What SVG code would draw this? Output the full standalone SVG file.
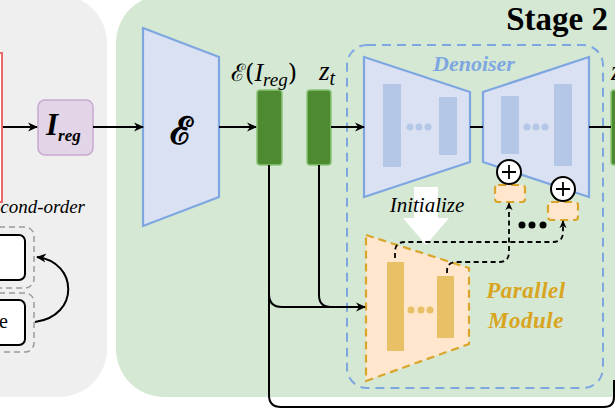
<svg xmlns="http://www.w3.org/2000/svg" width="615" height="410" viewBox="0 0 615 410">
<style>
text{font-family:"Liberation Serif","Times New Roman","DejaVu Serif",serif}
.conn{fill:none;stroke:#000;stroke-width:2}
.dconn{fill:none;stroke:#000;stroke-width:1.8;stroke-dasharray:5 3.5}
.bluebox{fill:#dae1f3;stroke:#7ea6e0;stroke-width:2.2}
.bluebar{fill:#b4c7e7}
.green{fill:#4d8a30;stroke:#8cc47a;stroke-width:1.5}
.orange{fill:#ffe6cc;stroke:#d9a52b;stroke-width:2.2;stroke-dasharray:8 5}
.goldbar{fill:#e8c065}
</style>
<defs>
<marker id="ah" viewBox="0 0 10 10" refX="9" refY="5" markerWidth="10" markerHeight="10" markerUnits="userSpaceOnUse" orient="auto"><path d="M0,0.5 L10,5 L0,9.5 L3,5 z" fill="#000"/></marker>
<marker id="ahs" viewBox="0 0 10 10" refX="9" refY="5" markerWidth="8" markerHeight="8" markerUnits="userSpaceOnUse" orient="auto"><path d="M0,0.5 L10,5 L0,9.5 L3,5 z" fill="#000"/></marker>
</defs>

<!-- panels -->
<g id="stage1-panel"><rect x="-60" y="-5" width="167" height="402" rx="48" fill="#efefef"/></g>
<g id="stage2-panel"><rect x="116" y="-5" width="570" height="402" rx="48" fill="#d5e8d4"/>
<text x="608" y="30" font-family="Liberation Serif, serif" font-size="33" font-weight="bold" text-anchor="end">Stage 2</text></g>

<!-- left panel content -->
<g id="input-image"><rect x="-100" y="53" width="102" height="149" fill="#ffffff" stroke="#ea6b66" stroke-width="2"/></g>
<g id="second-order-label"><text x="85" y="213" font-family="Liberation Serif, serif" font-size="19" font-style="italic" text-anchor="end">cond-order</text></g>
<g id="group-a"><rect x="-60" y="227" width="94" height="61" rx="9" fill="none" stroke="#9a9a9a" stroke-width="1.5" stroke-dasharray="6 4"/>
<rect x="-60" y="235" width="85" height="45" rx="6" fill="#fff" stroke="#000" stroke-width="2"/></g>
<g id="group-b"><rect x="-60" y="293" width="94" height="59" rx="9" fill="none" stroke="#9a9a9a" stroke-width="1.5" stroke-dasharray="6 4"/>
<rect x="-60" y="300" width="85" height="45" rx="6" fill="#fff" stroke="#000" stroke-width="2"/>
<text x="8" y="328" font-family="Liberation Serif, serif" font-size="20" text-anchor="end">e</text></g>

<g id="ireg"><rect x="38" y="100" width="55" height="55" rx="7" fill="#e1d5e7" stroke="#c8a8cf" stroke-width="1.5"/>
<text x="46" y="135" font-family="Liberation Serif, serif" font-weight="bold" font-style="italic"><tspan font-size="31">I</tspan><tspan font-size="17" dy="6">reg</tspan></text></g>

<g id="encoder"><polygon points="143,28 219,57 219,197 143,226" class="bluebox"/>
<text x="181" y="144" font-family="DejaVu Serif, DejaVu Sans, serif" font-size="38" font-weight="bold" text-anchor="middle">ℰ</text></g>

<g id="latent-ireg"><rect x="257" y="90" width="25" height="75" rx="3" class="green"/>
<text x="231" y="81" font-size="26"><tspan font-family="DejaVu Serif, serif" font-size="24">ℰ(</tspan><tspan font-family="Liberation Serif, serif" font-style="italic">I</tspan><tspan font-family="Liberation Serif, serif" font-style="italic" font-size="19" dy="5">reg</tspan><tspan font-family="DejaVu Serif, serif" font-size="24" dy="-5">)</tspan></text></g>
<g id="latent-zt"><rect x="307" y="90" width="24" height="75" rx="3" class="green"/>
<text x="319" y="80" font-family="Liberation Serif, serif" font-style="italic" font-size="27">z<tspan font-size="20" dy="5">t</tspan></text></g>

<g id="denoiser"><rect x="347" y="45" width="256" height="343" rx="20" fill="none" stroke="#7ea6e0" stroke-width="2" stroke-dasharray="9 6"/>
<text x="474" y="71" font-family="Liberation Serif, serif" font-size="22" font-weight="bold" font-style="italic" fill="#7ea6e0" text-anchor="middle">Denoiser</text>
<polygon points="364,57 470,92 470,162 364,197" class="bluebox"/>
<rect x="383" y="84" width="18" height="83" class="bluebar"/>
<rect x="439" y="97" width="18" height="58" class="bluebar"/>
<circle cx="410" cy="127" r="3.5" class="bluebar"/><circle cx="419" cy="127" r="3.5" class="bluebar"/><circle cx="428" cy="127" r="3.5" class="bluebar"/>
<polygon points="483,92 589,57 589,197 483,162" class="bluebox"/>
<rect x="501" y="96" width="18" height="58" class="bluebar"/>
<rect x="554" y="84" width="18" height="82" class="bluebar"/>
<circle cx="527" cy="127" r="3.5" class="bluebar"/><circle cx="536" cy="127" r="3.5" class="bluebar"/><circle cx="545" cy="127" r="3.5" class="bluebar"/></g>

<g id="latent-out"><rect x="611" y="90" width="24" height="75" rx="3" class="green"/>
<text x="611" y="80" font-family="Liberation Serif, serif" font-style="italic" font-size="27">z</text></g>

<g id="initialize"><polygon points="414,187 438,187 438,218 449,218 426,245 403,218 414,218" fill="#fff"/>
<text x="427" y="212" font-family="Liberation Serif, serif" font-size="21" font-style="italic" text-anchor="middle">Initialize</text></g>

<g id="parallel-module"><polygon points="366,235 469,268 469,344 366,381" class="orange"/>
<rect x="387" y="262" width="17" height="89" class="goldbar"/>
<rect x="437" y="276" width="17" height="62" class="goldbar"/>
<circle cx="411" cy="310" r="3.5" class="goldbar"/><circle cx="421" cy="310" r="3.5" class="goldbar"/><circle cx="430" cy="310" r="3.5" class="goldbar"/>
<text x="526" y="298" font-family="Liberation Serif, serif" font-size="23" font-weight="bold" font-style="italic" fill="#d9a521" text-anchor="middle" letter-spacing="0.5">Parallel</text>
<text x="526" y="328" font-family="Liberation Serif, serif" font-size="23" font-weight="bold" font-style="italic" fill="#d9a521" text-anchor="middle" letter-spacing="0.5">Module</text></g>

<g id="add1"><rect x="495" y="185" width="30" height="17" rx="3" class="orange" stroke-dasharray="4 2.5"/>
<circle cx="509" cy="172" r="12" fill="#fff" stroke="#000" stroke-width="2"/>
<path d="M502,172 H516 M509,165 V179" stroke="#000" stroke-width="1.8"/></g>
<g id="add2"><rect x="548" y="202" width="30" height="18" rx="3" class="orange" stroke-dasharray="4 2.5"/>
<circle cx="563" cy="189" r="12" fill="#fff" stroke="#000" stroke-width="2"/>
<path d="M556,189 H570 M563,182 V196" stroke="#000" stroke-width="1.8"/></g>

<g id="connectors">
<line x1="3" y1="127" x2="37" y2="127" class="conn" marker-end="url(#ah)"/>
<line x1="93" y1="127" x2="143" y2="127" class="conn" marker-end="url(#ah)"/>
<line x1="219" y1="127" x2="256" y2="127" class="conn" marker-end="url(#ah)"/>
<line x1="331" y1="127" x2="364" y2="127" class="conn" marker-end="url(#ah)"/>
<line x1="470" y1="127" x2="483" y2="127" class="conn"/>
<line x1="589" y1="127" x2="611" y2="127" class="conn"/>
<path d="M269,165 V395 Q269,407 281,407 H604 Q614,407 614,397 V380" class="conn"/>
<path d="M269,294 Q269,307 282,307 H365" class="conn" marker-end="url(#ah)"/>
<path d="M319,165 V295 Q319,307 331,307" class="conn"/>
<path d="M35,322 C80,316 78,262 37,257" class="conn" marker-end="url(#ah)"/>
<path d="M395,258 V252 Q395,242 405,242 H553 Q563,242 563,232 V221" class="dconn" marker-end="url(#ahs)"/>
<path d="M447,273 V271 Q447,262 457,262 H499 Q509,262 509,252 V203" class="dconn" marker-end="url(#ahs)"/>
<circle cx="522" cy="225" r="3.5"/><circle cx="532" cy="225" r="3.5"/><circle cx="543" cy="225" r="3.5"/>
</g>
</svg>
